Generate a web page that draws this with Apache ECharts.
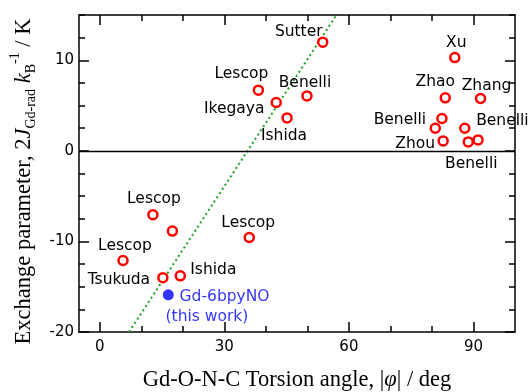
<!DOCTYPE html>
<html><head><meta charset="utf-8">
<script src="https://cdn.jsdelivr.net/npm/echarts@6/dist/echarts.min.js"></script>
<style>html,body{margin:0;padding:0;background:#fff}#c{width:531px;height:392px}</style>
</head><body><div id="c"></div>
<script>
// ---- data ----
const angles   = [53.7, 85.5, 83.2, 91.7, 82.4, 80.8, 82.7, 87.9, 88.75, 91.1, 49.9, 42.5, 45.1, 38.2, 12.8, 17.5, 36.0, 5.6, 15.2, 19.4];
const exchange = [12.0, 10.3, 5.85, 5.78, 3.57, 2.5, 1.1, 2.5, 0.99, 1.21, 6.07, 5.34, 3.64, 6.7, -7.06, -8.86, -9.56, -12.1, -14.0, -13.8];
const authors  = ['Sutter','Xu','Zhao','Zhang','Benelli','','Zhou','Benelli','Benelli','','Benelli','Ikegaya','Ishida','Lescop','Lescop','','Lescop','Lescop','Tsukuda','Ishida'];
const thisWorkAngle = [16.5];
const thisWorkJ = [-15.9];
const thisWorkName = ['Gd-6bpyNO', '(this work)'];
const fitAngles = [7.05, 57.0];
const fitJ = [-20, 15];
const xTickLabels = [0, 30, 60, 90];
const xMinorTicks = [0, 10, 20, 30, 40, 50, 60, 70, 80, 90];
const yTickLabels = [-20, -10, 0, 10];

// ---- styles (label placement, pixels) ----
const labelOffsets = [[-24,-10],[1.5,-15],[-10,-16],[6,-13],[-42,1],[0,0],[-28,3],[37.6,-7],[3,22],[0,0],[-2,-13],[-42,6],[-3,18],[-17,-16],[1,-16],[0,0],[-1,-14],[2,-14],[-44,2],[33,-6]];

const SANS = 'DejaVu Sans';
const SERIF = 'Liberation Serif';
const lineStyle = {color: '#000', width: 1.5};

function xAx(pos, major, showLine, showLabel) {
  return {
    type: 'value', position: pos, min: -5, max: 100,
    axisLine: {show: showLine, onZero: false, lineStyle},
    axisTick: {show: true, inside: true, length: major ? 10 : 6, customValues: major ? xTickLabels : xMinorTicks, lineStyle},
    axisLabel: {show: showLabel, customValues: xTickLabels, color: '#000', fontFamily: SANS, fontSize: 15, margin: 8},
    splitLine: {show: false}
  };
}
function yAx(pos, major, showLine, showLabel) {
  const a = {
    type: 'value', position: pos, min: -20, max: 15,
    axisLine: {show: showLine, onZero: false, lineStyle},
    axisTick: {show: true, inside: true, length: major ? 10 : 6, lineStyle},
    axisLabel: {show: showLabel, customValues: yTickLabels, color: '#000', fontFamily: SANS, fontSize: 15, margin: 5},
    splitLine: {show: false}
  };
  if (major) { a.axisTick.customValues = yTickLabels; } else { a.interval = 2.5; }
  return a;
}

const xAxes = [xAx('bottom', false, true, true), xAx('bottom', true, false, false), xAx('top', false, true, false), xAx('top', true, false, false)];
xAxes[0].name = 'Gd-O-N-C Torsion angle, |{i|φ}| / deg';
xAxes[0].nameLocation = 'middle';
xAxes[0].nameGap = 37;
xAxes[0].nameTextStyle = {fontFamily: SERIF, fontSize: 22.5, color: '#000', rich: {i: {fontFamily: SERIF, fontSize: 22.5, fontStyle: 'italic', color: '#000'}}};

const yAxes = [yAx('left', false, true, true), yAx('left', true, false, false), yAx('right', false, true, false), yAx('right', true, false, false)];
yAxes[0].name = 'Exchange parameter, 2{i|J}{sub|Gd-rad} {i|k}{sub|B}{sup|-1} / K';
yAxes[0].nameLocation = 'middle';
yAxes[0].nameRotate = 90;
yAxes[0].nameGap = 38;
yAxes[0].nameTextStyle = {
  fontFamily: SERIF, fontSize: 22.5, color: '#000', lineHeight: 30, verticalAlign: 'middle', padding: [0, 16, 0, 0],
  rich: {
    i: {fontFamily: SERIF, fontSize: 22.5, fontStyle: 'italic', color: '#000', lineHeight: 30},
    sub: {fontFamily: SERIF, fontSize: 14, color: '#000', lineHeight: 14, verticalAlign: 'bottom'},
    sup: {fontFamily: SERIF, fontSize: 14, color: '#000', lineHeight: 14, verticalAlign: 'top'}
  }
};

const redData = angles.map((a, i) => ({
  value: [a, exchange[i]],
  label: {show: authors[i] !== '', formatter: authors[i], offset: labelOffsets[i]}
}));

const chart = echarts.init(document.getElementById('c'), null, {renderer: 'canvas'});
chart.setOption({
  animation: false,
  backgroundColor: '#fff',
  grid: {left: 79, right: 16, top: 15, bottom: 60, outerBoundsMode: 'none', containLabel: false},
  xAxis: xAxes,
  yAxis: yAxes,
  series: [
    {
      type: 'line', xAxisIndex: 0, yAxisIndex: 0, z: 1,
      data: fitAngles.map((a, i) => [a, fitJ[i]]),
      symbol: 'none',
      lineStyle: {color: '#1fa01f', width: 2, type: [2, 3]},
      markLine: {
        silent: true, symbol: 'none', label: {show: false},
        lineStyle: {color: '#000', width: 1.3, type: 'solid'},
        data: [{yAxis: 0}]
      }
    },
    {
      type: 'scatter', xAxisIndex: 0, yAxisIndex: 0, z: 3,
      symbol: 'circle', symbolSize: 9,
      itemStyle: {color: '#fff', borderColor: '#ff0000', borderWidth: 2.5, opacity: 1},
      label: {position: 'inside', align: 'center', verticalAlign: 'middle', color: '#000', fontFamily: SANS, fontSize: 15.5},
      data: redData
    },
    {
      type: 'scatter', xAxisIndex: 0, yAxisIndex: 0, z: 3,
      symbol: 'circle', symbolSize: 11,
      itemStyle: {color: '#0000ff'},
      label: {
        show: true, position: 'inside', align: 'left', verticalAlign: 'top', offset: [-2.7, -8.3],
        color: '#0000ff', fontFamily: SANS, fontSize: 15.5, lineHeight: 20,
        formatter: '{a|' + thisWorkName[0] + '}\n{b|' + thisWorkName[1] + '}',
        rich: {
          a: {color: '#0000ff', fontFamily: SANS, fontSize: 15.5, lineHeight: 20, padding: [0, 0, 0, 14]},
          b: {color: '#0000ff', fontFamily: SANS, fontSize: 15.5, lineHeight: 20}
        }
      },
      data: thisWorkAngle.map((a, i) => [a, thisWorkJ[i]])
    }
  ]
});
</script>
</body></html>
